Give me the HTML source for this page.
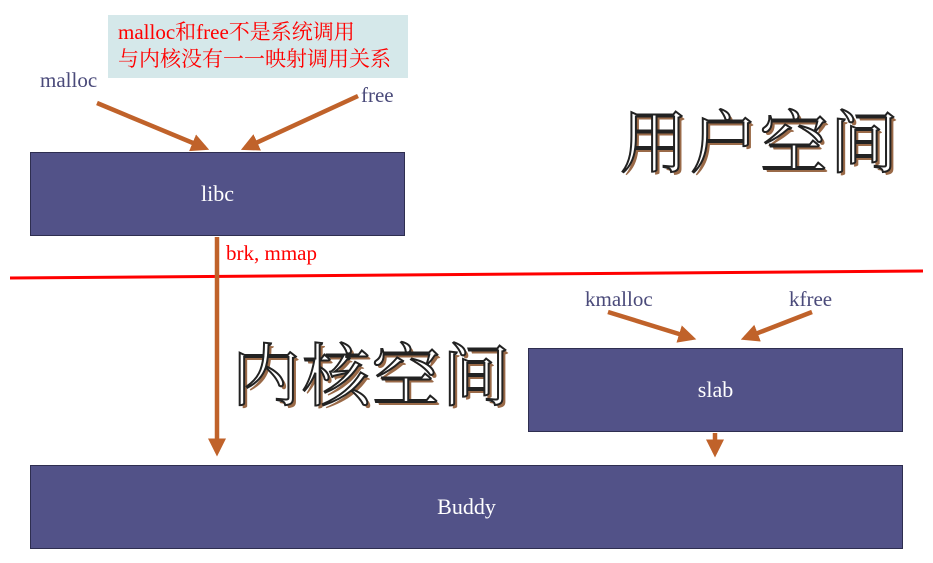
<!DOCTYPE html>
<html><head><meta charset="utf-8"><style>
body{margin:0;width:933px;height:563px;background:#fff;position:relative;overflow:hidden;font-family:"Liberation Serif","Noto Serif CJK SC",serif}
.box{position:absolute;background:#525288;border:1.5px solid #2e2e50;color:#fff;font-size:22px;display:flex;align-items:center;justify-content:center;box-sizing:border-box}
.t{position:absolute;white-space:nowrap}
.big{position:absolute;font-family:"Noto Serif CJK SC",serif;font-size:68px;color:#fff;-webkit-text-stroke:2px #222;text-shadow:3px 3px 0 #9a6a48;letter-spacing:2px;line-height:1}
</style></head><body>
<div style="position:absolute;left:108px;top:15px;width:300px;height:63px;background:#d5e8ea"></div>
<div class="t" style="left:118px;top:19px;color:#f00;font-size:21px;line-height:27px">malloc和free不是系统调用<br>与内核没有一一映射调用关系</div>
<div class="t" style="left:40px;top:68px;color:#4a4a7a;font-size:21px">malloc</div>
<div class="t" style="left:361px;top:83px;color:#4a4a7a;font-size:21px">free</div>
<div class="box" style="left:30px;top:152px;width:375px;height:84px">libc</div>
<div class="t" style="left:226px;top:241px;color:#f00;font-size:21px">brk, mmap</div>
<div class="big" style="left:620px;top:105px">用户空间</div>
<div class="big" style="left:232px;top:338px">内核空间</div>
<div class="t" style="left:585px;top:287px;color:#4a4a7a;font-size:21px">kmalloc</div>
<div class="t" style="left:789px;top:287px;color:#4a4a7a;font-size:21px">kfree</div>
<div class="box" style="left:528px;top:348px;width:375px;height:84px">slab</div>
<div class="box" style="left:30px;top:465px;width:873px;height:84px">Buddy</div>
<svg width="933" height="563" style="position:absolute;left:0;top:0">
<defs><marker id="a" markerWidth="4" markerHeight="4" refX="3" refY="2" orient="auto" markerUnits="strokeWidth"><path d="M0,0 L4,2 L0,4 z" fill="#c0622a"/></marker></defs>
<line x1="10" y1="278" x2="923" y2="271" stroke="#f00" stroke-width="3"/>
<g stroke="#c0622a" stroke-width="4.5" fill="none">
<line x1="97" y1="103" x2="205" y2="148" marker-end="url(#a)"/>
<line x1="358" y1="96" x2="245" y2="148" marker-end="url(#a)"/>
<line x1="217" y1="237" x2="217" y2="452" marker-end="url(#a)"/>
<line x1="608" y1="312" x2="692" y2="338" marker-end="url(#a)"/>
<line x1="812" y1="312" x2="745" y2="338" marker-end="url(#a)"/>
<line x1="715" y1="433" x2="715" y2="453" marker-end="url(#a)"/>
</g>
</svg>
</body></html>
